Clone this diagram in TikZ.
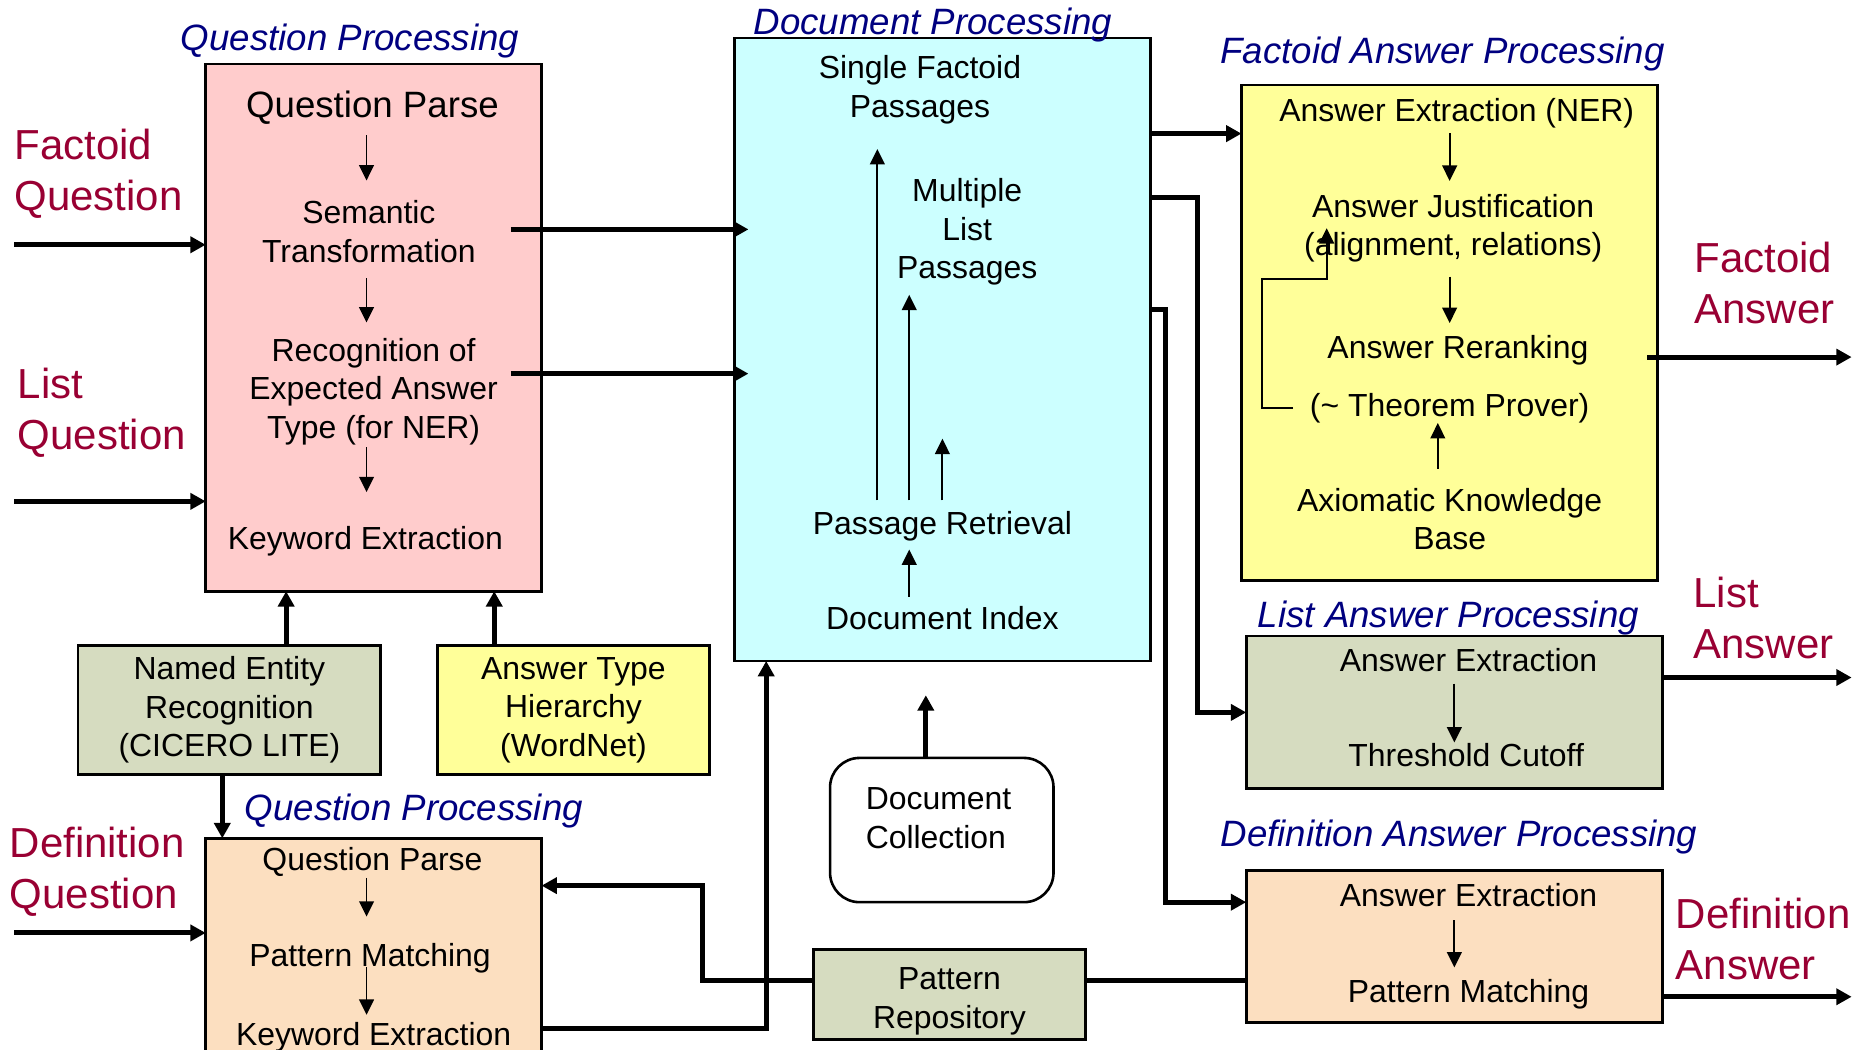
\documentclass[tikz,border=0pt]{standalone}
\usepackage{fontspec}
\setmainfont{Liberation Sans}
\usetikzlibrary{arrows.meta}
\definecolor{pinkc}{HTML}{FFCCCC}
\definecolor{cyanc}{HTML}{CCFFFF}
\definecolor{yellc}{HTML}{FFFF99}
\definecolor{greyg}{HTML}{D6DCC0}
\definecolor{peach}{HTML}{FCDFC0}
\definecolor{navyc}{HTML}{000080}
\definecolor{redc}{HTML}{990033}
\tikzset{
 box/.style={draw=black, line width=2.2pt, anchor=north west, inner sep=0pt, outer sep=0pt},
 txt/.style={font=\fontsize{27}{32.5}\selectfont, align=center, inner sep=0pt},
 bigtxt/.style={font=\fontsize{31}{36}\selectfont, inner sep=0pt},
 ttl/.style={font=\fontsize{31}{36}\selectfont\itshape, text=navyc, inner sep=0pt},
 side/.style={font=\fontsize{35.5}{43}\selectfont, text=redc, align=left, anchor=west, inner sep=0pt},
 karr/.style={line width=4.2pt, -{Triangle[length=13pt,width=13.5pt]}},
 kline/.style={line width=4.2pt},
 tarr/.style={line width=1.5pt, -{Triangle[length=13pt,width=12.5pt]}},
}
\begin{document}
\begin{tikzpicture}[x=1pt,y=-1pt]
\useasboundingbox (0,0) rectangle (1568,888);
\clip (0,0) rectangle (1568,888);
\fill[white] (0,0) rectangle (1568,888);

% ---------- boxes ----------
\node[box, fill=pinkc, minimum width=284pt, minimum height=446pt] (qp1) at (174,54) {};
\node[box, fill=cyanc, minimum width=352pt, minimum height=527pt] (doc) at (621,32) {};
\node[box, fill=yellc, minimum width=352pt, minimum height=419pt] (fap) at (1050,72) {};
\node[box, fill=greyg, minimum width=352pt, minimum height=129pt] (lap) at (1054,538) {};
\node[box, fill=peach, minimum width=352pt, minimum height=129pt] (dap) at (1054,736) {};
\node[box, fill=peach, minimum width=284pt, minimum height=220pt] (qp2) at (174,709) {};
\node[box, txt, fill=greyg, minimum width=256pt, minimum height=109pt] (ner) at (66,546) {Named Entity\\Recognition\\(CICERO LITE)};
\node[box, txt, fill=yellc, minimum width=230pt, minimum height=109pt] (ath) at (370,546) {Answer Type\\Hierarchy\\(WordNet)};
\node[box, fill=white, rounded corners=25pt, minimum width=189pt, minimum height=122pt] (dcol) at (702,641) {};
\node[txt, align=left, anchor=west] (dcolt) at (732,692) {Document\\Collection};
\node[box, fill=greyg, minimum width=230pt, minimum height=76pt] (prep) at (688,803) {};
\node[txt] (prept) at (803,847) {Pattern\\Repository};

% ---------- titles ----------
\node[ttl] (t1) at (296,35) {Question Processing};
\node[ttl] (t2) at (789,21) {Document Processing};
\node[ttl] (t3) at (1220,46) {Factoid Answer Processing};
\node[ttl] (t4) at (1225,523) {List Answer Processing};
\node[ttl] (t5) at (1234,708) {Definition Answer Processing};
\node[ttl] (t6) at (350,686) {Question Processing};

% ---------- side labels ----------
\node[side] (lfq) at (12,147) {Factoid\\Question};
\node[side] (llq) at (15,349) {List\\Question};
\node[side] (ldq) at (8,737) {Definition\\Question};
\node[side] (lfa) at (1433,239) {Factoid\\Answer};
\node[side] (lla) at (1432,523) {List\\Answer};
\node[side] (lda) at (1417,794) {Definition\\Answer};

% ---------- question processing (top) ----------
\node[bigtxt] (qpa) at (315,91) {Question Parse};
\node[txt] (qpb) at (312,196) {Semantic\\Transformation};
\node[txt] (qpc) at (316,331) {Recognition of\\Expected Answer\\Type (for NER)};
\node[txt] (qpd) at (309,458) {Keyword Extraction};
\coordinate (ax) at (310,0);
\draw[tarr, shorten <=9pt, shorten >=17pt] (qpa.south -| ax) -- (qpb.north -| ax);
\draw[tarr, shorten <=13pt, shorten >=13pt] (qpb.south -| ax) -- (qpc.north -| ax);
\draw[tarr, shorten <=2pt, shorten >=29pt] (qpc.south -| ax) -- (qpd.north -| ax);

% ---------- document processing ----------
\node[txt] (dsf) at (778,76) {Single Factoid\\Passages};
\node[txt] (dml) at (818,196) {Multiple\\List\\Passages};
\node[txt] (dpr) at (797,445) {Passage Retrieval};
\node[txt] (ddi) at (797,523) {Document Index};
\coordinate (dx1) at (742,0);
\coordinate (dx2) at (769,0);
\coordinate (dx3) at (797,0);
\coordinate (dtop) at (797,371);
\draw[tarr, shorten <=9pt, shorten >=21pt] (dpr.north -| dx1) -- (dsf.south -| dx1);
\draw[tarr, shorten <=9pt, shorten >=8pt] (dpr.north -| dx2) -- (dml.south -| dx2);
\draw[tarr, shorten <=9pt] (dpr.north -| dx3) -- (dtop);
\draw[tarr, shorten <=8pt, shorten >=7pt] (ddi.north -| dx2) -- (dpr.south -| dx2);

% ---------- factoid answer processing ----------
\node[txt] (fae) at (1232,96) {Answer Extraction (NER)};
\node[txt] (faj) at (1229,193) {Answer Justification\\(alignment, relations)};
\node[txt] (far) at (1233,296) {Answer Reranking};
\node[txt] (fat) at (1226,345) {(\char`~{} Theorem Prover)};
\node[txt] (fak) at (1226,439) {Axiomatic Knowledge\\Base};
\coordinate (fx) at (1226,0);
\coordinate (fx2) at (1216,0);
\draw[tarr, shorten <=4pt, shorten >=11pt] (fae.south -| fx) -- (faj.north -| fx);
\draw[tarr, shorten <=12pt, shorten >=10pt] (faj.south -| fx) -- (far.north -| fx);
\draw[tarr, shorten <=16pt] (fak.north -| fx2) -- (fat.south -| fx2);
\coordinate (fbA) at (1067,236);
\coordinate (fbB) at (1122,236);
\draw[tarr] ([xshift=-14pt]fat.west) -- (fbA |- fat.west) -- (fbA) -- (fbB) -- (fbB |- faj.center);

% ---------- list answer processing ----------
\node[txt] (lae) at (1242,558) {Answer Extraction};
\node[txt] (ltc) at (1240,639) {Threshold Cutoff};
\coordinate (lx) at (1230,0);
\draw[tarr, shorten <=10pt, shorten >=1pt] (lae.south -| lx) -- (ltc.north -| lx);

% ---------- definition answer processing ----------
\node[txt] (dae) at (1242,757) {Answer Extraction};
\node[txt] (dpm) at (1242,841) {Pattern Matching};
\draw[tarr, shorten <=11pt, shorten >=10pt] (dae.south -| lx) -- (dpm.north -| lx);

% ---------- question processing (definition) ----------
\node[txt] (q2a) at (315,729) {Question Parse};
\node[txt] (q2b) at (313,810) {Pattern Matching};
\node[txt] (q2c) at (316,877) {Keyword Extraction};
\draw[tarr, shorten <=1pt, shorten >=22pt] (q2a.south -| ax) -- (q2b.north -| ax);
\draw[tarr, shorten <=8pt, shorten >=6pt] (q2b.center -| ax) -- (q2c.north -| ax);

% ---------- thick connectors ----------
\coordinate (fqs) at (12,207);
\coordinate (lqs) at (12,424);
\coordinate (dqs) at (12,789);
\draw[karr] (fqs) -- (fqs -| qp1.west);
\draw[karr] (lqs) -- (lqs -| qp1.west);
\draw[karr] (dqs) -- (dqs -| qp2.west);

\coordinate (r1) at (0,194);
\coordinate (r2) at (0,316);
\draw[karr] ([xshift=-26pt]qp1.east |- r1) -- ([xshift=12pt]doc.west |- r1);
\draw[karr] ([xshift=-26pt]qp1.east |- r2) -- ([xshift=12pt]doc.west |- r2);

\coordinate (r3) at (0,113);
\draw[karr] (doc.east |- r3) -- (fap.west |- r3);
\coordinate (j1) at (1013,167);
\draw[karr] (doc.east |- j1) -- (j1) |- (lap.west);
\coordinate (j2) at (986,262);
\coordinate (j3) at (0,763);
\draw[karr] (doc.east |- j2) -- (j2) |- (dap.west |- j3);

\coordinate (fo) at (1566,302);
\coordinate (lo) at (1566,573);
\coordinate (do) at (1566,843);
\draw[karr] ([xshift=-9pt]fap.east |- fo) -- (fo);
\draw[karr] (lap.east |- lo) -- (lo);
\draw[karr] (dap.east |- do) -- (do);

\coordinate (x242) at (242,0);
\coordinate (x418) at (418,0);
\coordinate (x188) at (188,0);
\draw[karr] (ner.north -| x242) -- (qp1.south -| x242);
\draw[karr] (ath.north -| x418) -- (qp1.south -| x418);
\draw[karr] (ner.south -| x188) -- (qp2.north -| x188);

\coordinate (k1) at (648,870);
\draw[karr] (qp2.east |- k1) -- (k1) -- (k1 |- doc.south);

\coordinate (p1) at (594,829);
\coordinate (p2) at (594,749);
\draw[karr] (prep.west |- p1) -- (p1) -- (p2) -- (qp2.east |- p2);
\draw[kline] (prep.east |- p1) -- (dap.west |- p1);

\coordinate (dc) at (783,588);
\draw[karr] (dcol.north -| dc) -- (dc);
\end{tikzpicture}
\end{document}
